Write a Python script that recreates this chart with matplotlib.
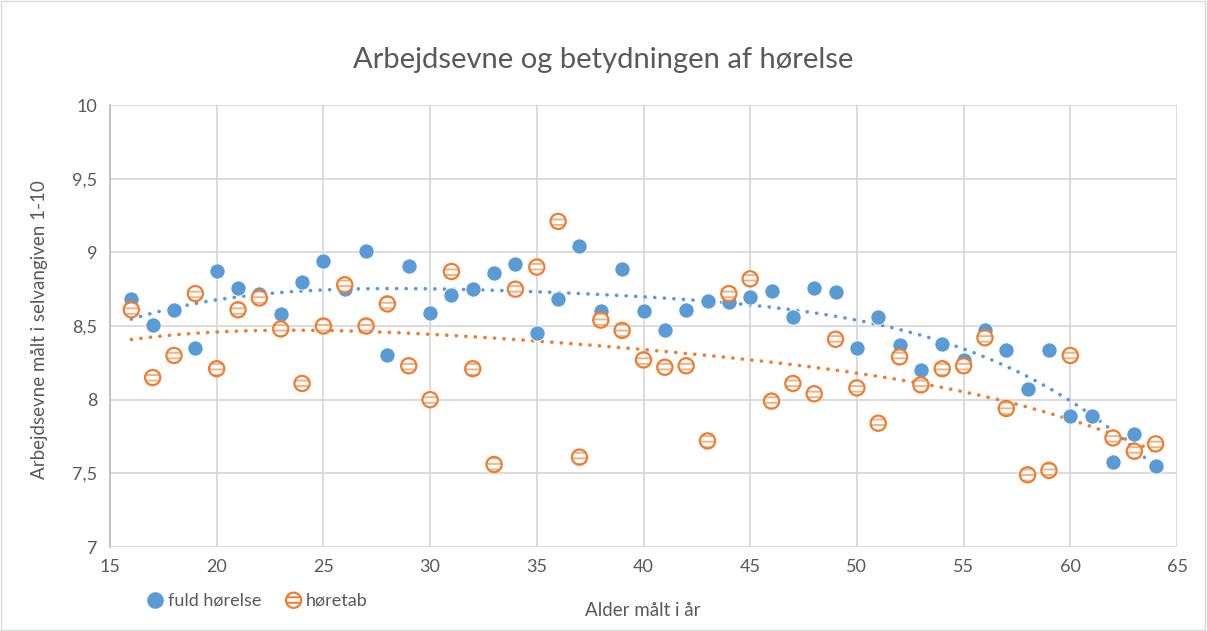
import matplotlib.pyplot as plt
import numpy as np
from matplotlib.patches import Rectangle

plt.rcParams['font.family'] = ['Lato', 'DejaVu Sans']
plt.rcParams['hatch.linewidth'] = 1.4

# data
alder_fuld = list(range(16, 65))
fuld_hoerelse = [8.68, 8.51, 8.61, 8.35, 8.87, 8.76, 8.72, 8.58, 8.80, 8.94,
                 8.75, 9.01, 8.30, 8.91, 8.59, 8.71, 8.75, 8.86, 8.92, 8.45,
                 8.68, 9.04, 8.60, 8.89, 8.60, 8.47, 8.61, 8.67, 8.66, 8.70,
                 8.74, 8.56, 8.76, 8.73, 8.35, 8.56, 8.37, 8.20, 8.38, 8.27,
                 8.47, 8.34, 8.07, 8.34, 7.89, 7.89, 7.58, 7.77, 7.55]

alder_tab = list(range(16, 61)) + [62, 63, 64]
hoeretab = [8.61, 8.15, 8.30, 8.72, 8.21, 8.61, 8.69, 8.48, 8.11, 8.50,
            8.78, 8.50, 8.65, 8.23, 8.00, 8.87, 8.21, 7.56, 8.75, 8.90,
            9.21, 7.61, 8.54, 8.47, 8.27, 8.22, 8.23, 7.72, 8.72, 8.82,
            7.99, 8.11, 8.04, 8.41, 8.08, 7.84, 8.29, 8.10, 8.21, 8.23,
            8.42, 7.94, 7.49, 7.52, 8.30, 7.74, 7.65, 7.70]

blue = '#5B9BD5'
orange = '#ED7D31'
light_orange = '#F4B183'
grey_txt = '#595959'

fig = plt.figure(figsize=(12.07, 6.31), dpi=100)
ax = fig.add_axes([110 / 1207, 1 - 547 / 631, (1177 - 110) / 1207, (547 - 105) / 631])

# trendlines (polynomial fit)
for xs, ys, c in [(alder_fuld, fuld_hoerelse, blue), (alder_tab, hoeretab, orange)]:
    p = np.polyfit(xs, ys, 4)
    xx = np.linspace(16, 64, 200)
    ax.plot(xx, np.polyval(p, xx), color=c, lw=2.6, linestyle=(0, (0.05, 2.6)),
            dash_capstyle='round', zorder=2)

ax.scatter(alder_fuld, fuld_hoerelse, s=120, color=blue, edgecolors='white',
           linewidths=0.6, zorder=3)
ax.scatter(alder_tab, hoeretab, s=120, facecolor='white', edgecolors=light_orange,
           hatch='---', linewidths=0, zorder=4)
ax.scatter(alder_tab, hoeretab, s=120, facecolor='none', edgecolors=orange,
           linewidths=1.6, zorder=5)

ax.set_xlim(15, 65)
ax.set_ylim(7, 10)
ax.set_xticks(range(15, 66, 5))
ax.set_yticks([7, 7.5, 8, 8.5, 9, 9.5, 10])
ax.set_yticklabels(['7', '7,5', '8', '8,5', '9', '9,5', '10'])
ax.grid(True, color='#D9D9D9', lw=1.3)
ax.set_axisbelow(True)
for s in ['top', 'right', 'bottom']:
    ax.spines[s].set_visible(False)
ax.spines['left'].set_color('#BFBFBF')
ax.spines['left'].set_linewidth(1.3)
ax.tick_params(length=0, labelsize=13, labelcolor=grey_txt, pad=9)

fig.text(0.5, 1 - 60 / 631, 'Arbejdsevne og betydningen af hørelse', ha='center',
         va='center', fontsize=21, color=grey_txt)
fig.text(40 / 1207, 1 - 330 / 631, 'Arbejdsevne målt i selvangiven 1-10', rotation=90,
         ha='center', va='center', fontsize=13.5, color=grey_txt)
fig.text(643 / 1207, 1 - 610 / 631, 'Alder målt i år', ha='center', va='center',
         fontsize=13.5, color=grey_txt)

h1 = ax.scatter([], [], s=120, color=blue)
h2 = ax.scatter([], [], s=120, facecolor='white', edgecolors=orange, hatch='---', linewidths=1.6)
fig.legend([h1, h2], ['fuld hørelse', 'høretab'], loc='center left',
           bbox_to_anchor=(128 / 1207, 1 - 600 / 631), ncol=2, frameon=False,
           fontsize=13, labelcolor=grey_txt, handletextpad=0.1, columnspacing=1.2,
           handlelength=1.2)

fig.patches.append(Rectangle((0.001, 0.002), 0.997, 0.996, transform=fig.transFigure,
                             fill=False, edgecolor='#D9D9D9', lw=1))

fig.savefig('out.png', dpi=100)
